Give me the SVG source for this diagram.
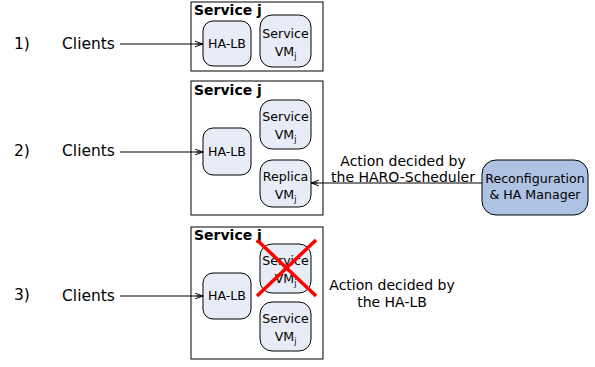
<svg xmlns="http://www.w3.org/2000/svg" width="595" height="367" viewBox="0 0 595 367">
  <style>
    text { font-family: "DejaVu Sans", "Liberation Sans", sans-serif; fill: #000; }
    .lbl { font-size: 14px; }
    .step { font-size: 15.5px; }
    .title { font-size: 14px; font-weight: bold; }
    .node { font-size: 12.6px; text-anchor: middle; }
    .sub { font-size: 8px; }
    .svc { fill: #fff; stroke: #000; stroke-width: 1; }
    .vm { fill: #e8ecf6; stroke: #000; stroke-width: 1; }
    .mgr { fill: #aec3e3; stroke: #000; stroke-width: 1; }
    .edge { fill: none; stroke: #000; stroke-width: 1.2; }
    .cross { stroke: #ff0000; stroke-width: 3.5; }
  </style>
  <defs>
    <marker id="arrow" viewBox="0 0 10 10" refX="10" refY="5" markerWidth="8" markerHeight="8" markerUnits="userSpaceOnUse" orient="auto">
      <path d="M0,1.5 L10,5 L0,8.5 M2,5 L10,5" fill="none" stroke="#000" stroke-width="1.2"/>
    </marker>
  </defs>

  <!-- step labels -->
  <g id="steps" class="step">
    <text x="14" y="49">1)</text>
    <text x="14" y="156">2)</text>
    <text x="14" y="300">3)</text>
    <text x="62" y="49">Clients</text>
    <text x="62" y="156">Clients</text>
    <text x="62" y="301">Clients</text>
  </g>

  <!-- step 1 -->
  <g id="service1">
    <rect class="svc" x="191" y="2" width="132" height="69"/>
    <text class="title" x="194" y="15">Service j</text>
  </g>
  <g id="halb1">
    <rect class="vm" x="203" y="21" width="48" height="45" rx="10"/>
    <text class="node" x="227" y="48">HA-LB</text>
  </g>
  <g id="vm1">
    <rect class="vm" x="260" y="15" width="51" height="52" rx="12"/>
    <text class="node" x="285.5" y="38">Service</text>
    <text class="node" x="285.5" y="56">VM<tspan class="sub" dy="3">j</tspan></text>
  </g>

  <!-- step 2 -->
  <g id="service2">
    <rect class="svc" x="191" y="81" width="132" height="134"/>
    <text class="title" x="194" y="95">Service j</text>
  </g>
  <g id="halb2">
    <rect class="vm" x="203" y="128" width="48" height="47" rx="10"/>
    <text class="node" x="227" y="156">HA-LB</text>
  </g>
  <g id="vm2">
    <rect class="vm" x="260" y="100" width="51" height="49" rx="12"/>
    <text class="node" x="285.5" y="121">Service</text>
    <text class="node" x="285.5" y="139">VM<tspan class="sub" dy="3">j</tspan></text>
  </g>
  <g id="replica2">
    <rect class="vm" x="260" y="160" width="51" height="47" rx="12"/>
    <text class="node" x="285.5" y="181">Replica</text>
    <text class="node" x="285.5" y="199">VM<tspan class="sub" dy="3">j</tspan></text>
  </g>
  <g id="manager">
    <rect class="mgr" x="482" y="160" width="106" height="55" rx="14"/>
    <text class="node" x="535" y="183">Reconfiguration</text>
    <text class="node" x="535" y="199">&amp; HA Manager</text>
  </g>
  <g id="note2" class="lbl" text-anchor="middle">
    <text x="403" y="166">Action decided by</text>
    <text x="403" y="182">the HARO-Scheduler</text>
  </g>

  <!-- step 3 -->
  <g id="service3">
    <rect class="svc" x="191" y="227" width="132" height="132"/>
    <text class="title" x="194" y="240">Service j</text>
  </g>
  <g id="halb3">
    <rect class="vm" x="203" y="273" width="48" height="46" rx="10"/>
    <text class="node" x="227" y="300">HA-LB</text>
  </g>
  <g id="vm3a">
    <rect class="vm" x="260" y="244" width="51" height="49" rx="12"/>
    <text class="node" x="285.5" y="265">Service</text>
    <text class="node" x="285.5" y="283">VM<tspan class="sub" dy="3">j</tspan></text>
    <line class="cross" x1="257" y1="240" x2="316" y2="296"/>
    <line class="cross" x1="316" y1="240" x2="257" y2="296"/>
  </g>
  <g id="vm3b">
    <rect class="vm" x="260" y="302" width="51" height="49" rx="12"/>
    <text class="node" x="285.5" y="323">Service</text>
    <text class="node" x="285.5" y="341">VM<tspan class="sub" dy="3">j</tspan></text>
  </g>
  <g id="note3" class="lbl" text-anchor="middle">
    <text x="392" y="290">Action decided by</text>
    <text x="392" y="307">the HA-LB</text>
  </g>

  <!-- connectors -->
  <g id="connectors">
    <line class="edge" x1="120" y1="44" x2="203" y2="44" marker-end="url(#arrow)"/>
    <line class="edge" x1="120" y1="152" x2="203" y2="152" marker-end="url(#arrow)"/>
    <line class="edge" x1="120" y1="296" x2="203" y2="296" marker-end="url(#arrow)"/>
    <line class="edge" x1="482" y1="183" x2="311" y2="183" marker-end="url(#arrow)"/>
  </g>
</svg>
